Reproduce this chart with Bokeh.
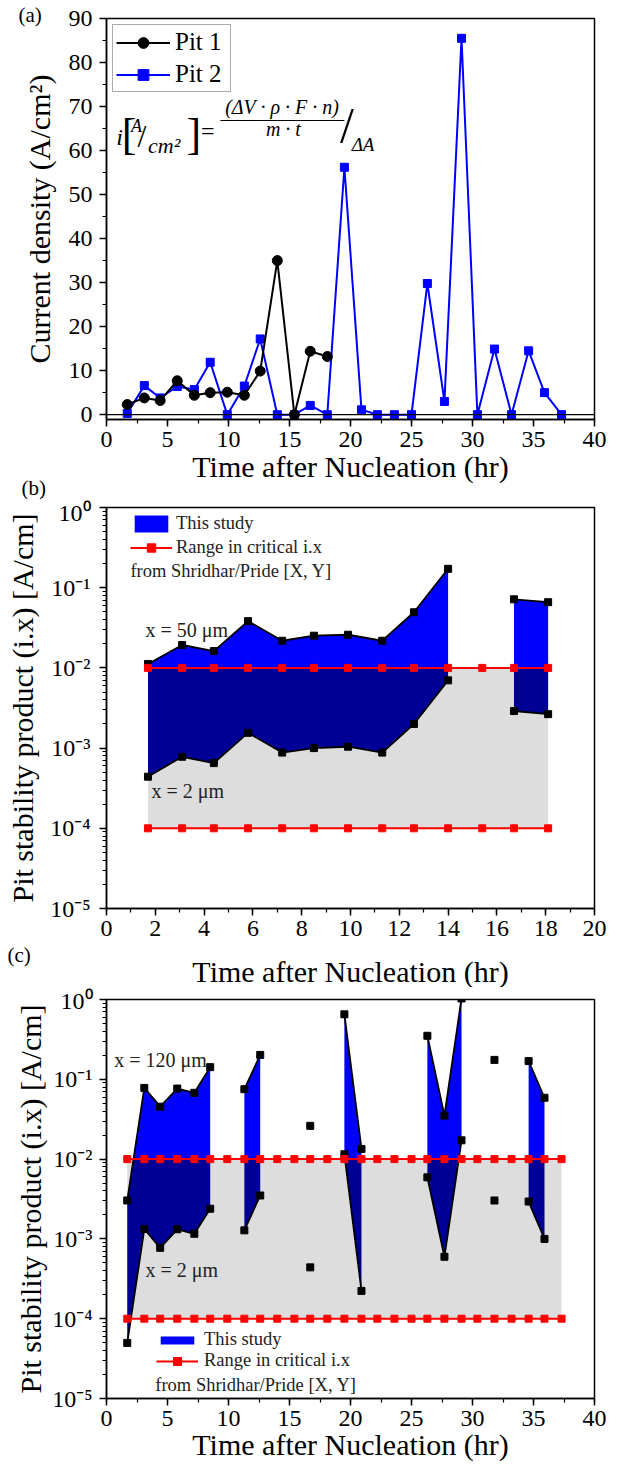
import numpy as np
from bokeh.plotting import figure
from bokeh.layouts import column
from bokeh.models import (SingleIntervalTicker, FixedTicker, CustomJSTickFormatter,
                          Legend, LegendItem, Label, Span, Title)
from bokeh.embed import file_html
from bokeh.resources import INLINE

nan = float("nan")

# ---------------- data ----------------
time_hr = [1.7, 3.1, 4.4, 5.8, 7.2, 8.5, 9.9, 11.3, 12.6, 14.0, 15.4, 16.7, 18.1,
           19.5, 20.9, 22.2, 23.6, 25.0, 26.3, 27.7, 29.1, 30.4, 31.8, 33.2, 34.6, 35.9, 37.3]

pit1_i = [2.3, 3.8, 3.2, 7.7, 4.4, 5.0, 5.1, 4.4, 9.9, 35.0, 0.0, 14.4, 13.2]
pit2_i = [0.25, 6.6, 3.8, 6.4, 5.7, 11.9, 0.0, 6.5, 17.2, 0.0, 0.0, 2.1, 0.0, 56.2, 1.1,
          0.0, 0.0, 0.0, 29.8, 3.0, 85.5, 0.0, 14.9, 0.0, 14.5, 5.0, 0.0]

# panel (b): pit 1 stability product
b_time = time_hr[:13]
b_ix_50um = [0.0112, 0.0193, 0.0162, 0.0383, 0.0218, 0.0252, 0.0259, 0.0218, 0.0494,
             0.172, nan, 0.0716, 0.066]
b_ix_2um = [4.4e-4, 7.8e-4, 6.5e-4, 1.55e-3, 8.8e-4, 1.0e-3, 1.04e-3, 8.8e-4, 2.0e-3,
            7.0e-3, nan, 2.9e-3, 2.65e-3]
b_crit_upper = [1e-2] * 13
b_crit_lower = [1e-4] * 13

# panel (c): pit 2 stability product
c_time = time_hr
c_ix_120um = [0.00303, 0.078, 0.0454, 0.0766, 0.0677, 0.142, nan, 0.0752, 0.202, nan, nan,
              0.0261, nan, 0.652, 0.0134, nan, nan, nan, 0.351, 0.0351, 1.03, nan, 0.175,
              nan, 0.169, 0.0587, nan]
c_ix_2um = [4.97e-5, 1.33e-3, 7.73e-4, 1.32e-3, 1.16e-3, 2.39e-3, nan, 1.28e-3, 3.5e-3, nan,
            nan, 4.4e-4, nan, 0.0115, 2.23e-4, nan, nan, nan, 5.91e-3, 5.97e-4, 0.0172, nan,
            3.03e-3, nan, 2.94e-3, 1.0e-3, nan]
c_crit_upper = [1e-2] * 27
c_crit_lower = [1e-4] * 27

log_ticks = [1e-5, 1e-4, 1e-3, 1e-2, 1e-1, 1.0]
panel_tags = ["(a)", "(b)", "(c)"]
x_title = "Time after Nucleation (hr)"

# ---------------- style ----------------
SERIF = "Liberation Serif"
BLUE = "#0000FF"
DARK = "#000096"
GRAY = "#DDDDDD"
RED = "#FF0000"
TXT = "#222222"


def style(p, tick_standoff_x=5, tick_standoff_y=7, lab_standoff_x=0, lab_standoff_y=10):
    for ax in (p.xaxis[0], p.yaxis[0]):
        ax.axis_line_color = "black"
        ax.axis_line_width = 1.5
        ax.major_tick_line_color = "black"
        ax.major_tick_line_width = 1.5
        ax.minor_tick_line_color = "black"
        ax.minor_tick_line_width = 1.2
        ax.major_tick_in = 0
        ax.major_tick_out = 7
        ax.minor_tick_in = 0
        ax.minor_tick_out = 4
        ax.major_label_text_font = SERIF
        ax.major_label_text_font_size = "24px"
        ax.major_label_text_font_style = "normal"
        ax.major_label_text_color = "black"
        ax.axis_label_text_font = SERIF
        ax.axis_label_text_font_size = "30px"
        ax.axis_label_text_font_style = "normal"
        ax.axis_label_text_color = "black"
    p.xaxis[0].major_label_standoff = tick_standoff_x
    p.yaxis[0].major_label_standoff = tick_standoff_y
    p.xaxis[0].axis_label_standoff = lab_standoff_x
    p.yaxis[0].axis_label_standoff = lab_standoff_y
    p.xgrid.visible = False
    p.ygrid.visible = False
    p.outline_line_color = "black"
    p.outline_line_width = 1.5
    p.outline_line_alpha = 1.0
    p.background_fill_color = "white"


log_fmt = CustomJSTickFormatter(code="""
const sup = {"-":"\u207b","0":"\u2070","1":"\u00b9","2":"\u00b2","3":"\u00b3","4":"\u2074",
             "5":"\u2075","6":"\u2076","7":"\u2077","8":"\u2078","9":"\u2079"};
const e = Math.round(Math.log10(tick));
return "10" + String(e).split("").map(c => sup[c]).join("");
""")
minor_log = [k * 10.0 ** e for e in range(-5, 0) for k in range(2, 10)]


def lab(p, x, y, text, size="20px", style_="normal", align="left", color=TXT, baseline="middle"):
    p.add_layout(Label(x=x, y=y, text=text, text_font=SERIF, text_font_size=size,
                       text_font_style=style_, text_align=align, text_baseline=baseline,
                       text_color=color))


def side_title(text, align, valign, offset, standoff, size="21px"):
    return Title(text=text, align=align, vertical_align=valign, offset=offset,
                 standoff=standoff, text_font=SERIF, text_font_size=size,
                 text_font_style="normal", text_color="black")


# ---------------- panel (a) ----------------
pa = figure(width=629, height=499, x_range=(0, 40), y_range=(-1.1, 90),
            output_backend="svg", toolbar_location=None,
            min_border_left=96, min_border_right=35, min_border_top=18, min_border_bottom=80)
style(pa, tick_standoff_x=5, tick_standoff_y=7, lab_standoff_x=0, lab_standoff_y=10)
pa.xaxis[0].ticker = SingleIntervalTicker(interval=5, num_minor_ticks=2)
pa.yaxis[0].ticker = SingleIntervalTicker(interval=10, num_minor_ticks=2)
pa.xaxis[0].axis_label = x_title
pa.yaxis[0].axis_label = "Current density (A/cm\u00b2)"

pa.add_layout(Span(location=0, dimension="width", line_color="black", line_width=1.3))
l2 = pa.line(time_hr, pit2_i, line_color=BLUE, line_width=2)
s2 = pa.scatter(time_hr, pit2_i, marker="square", size=8, color=BLUE)
l1 = pa.line(time_hr[:13], pit1_i, line_color="black", line_width=2)
s1 = pa.scatter(time_hr[:13], pit1_i, marker="circle", size=10, color="black")

leg_a = Legend(items=[LegendItem(label="Pit 1", renderers=[l1, s1]),
                      LegendItem(label="Pit 2", renderers=[l2, s2])],
               location="top_left", margin=6, padding=3, spacing=4,
               glyph_width=54, glyph_height=27, label_height=27, label_width=52,
               label_standoff=5, label_text_font=SERIF, label_text_font_size="25px",
               label_text_color="black", border_line_color="#555555", border_line_width=1,
               background_fill_color="white", background_fill_alpha=1)
pa.add_layout(leg_a)

# formula  i [A/cm2] = (dV.rho.F.n)/(m.t) / dA
lab(pa, 0.80, 63.0, "i", "24px", "italic", color="black")
lab(pa, 1.25, 63.7, "[", "44px", color="black")
lab(pa, 2.01, 65.5, "A", "18px", "italic", color="black")
lab(pa, 2.55, 63.2, "/", "32px", color="black")
lab(pa, 3.40, 61.2, "cm\u00b2", "22px", "italic", color="black")
lab(pa, 6.55, 63.7, "]", "44px", color="black")
lab(pa, 7.75, 64.4, "=", "24px", color="black")
lab(pa, 14.4, 70.0, "(\u0394V \u00b7 \u03c1 \u00b7 F \u00b7 n)", "20px", "italic", "center", color="black")
lab(pa, 14.4, 68.6, "_" * 13, "19px", "normal", "center", color="black", baseline="alphabetic")
lab(pa, 14.5, 65.0, "m \u00b7 t", "20px", "italic", "center", color="black")
lab(pa, 19.7, 65.8, "/", "50px", "normal", "center", color="black")
lab(pa, 20.1, 61.3, "\u0394A", "19px", "italic", color="black")

# panel tags (a) above, (b) below the x axis title
pa.add_layout(side_title(panel_tags[0], "left", "top", -88, -21), "above")
pa.add_layout(side_title(panel_tags[1], "left", "bottom", -85, -23), "below")


# ---------------- helpers for stability panels ----------------
def runs_of(top, bot):
    runs, cur = [], []
    for i in range(len(top)):
        if np.isfinite(top[i]) and np.isfinite(bot[i]):
            cur.append(i)
        else:
            if cur:
                runs.append(cur)
            cur = []
    if cur:
        runs.append(cur)
    return runs


def refine(x, top, bot, thr):
    lt, lb, lthr = np.log10(top), np.log10(bot), np.log10(thr)
    X, T, B = [x[0]], [lt[0]], [lb[0]]
    for i in range(1, len(x)):
        fs = []
        for arr in (lt, lb):
            a, b = arr[i - 1] - lthr, arr[i] - lthr
            if a * b < 0:
                fs.append(a / (a - b))
        for f in sorted(fs):
            X.append(x[i - 1] + f * (x[i] - x[i - 1]))
            T.append(lt[i - 1] + f * (lt[i] - lt[i - 1]))
            B.append(lb[i - 1] + f * (lb[i] - lb[i - 1]))
        X.append(x[i]); T.append(lt[i]); B.append(lb[i])
    return np.array(X), 10 ** np.array(T), 10 ** np.array(B)


def stability_panel(p, t, top, bot, upper, lower):
    t = np.array(t, float); top = np.array(top, float); bot = np.array(bot, float)
    p.varea(x=t, y1=lower, y2=upper, fill_color=GRAY)
    thr = upper[0]
    blue_r = None
    for r in runs_of(top, bot):
        if len(r) < 2:
            continue
        X, T, B = refine(t[r], top[r], bot[r], thr)
        dark_hi = np.minimum(T, thr)
        dark_lo = np.minimum(B, dark_hi)
        blue_lo = np.maximum(B, thr)
        blue_hi = np.maximum(T, blue_lo)
        p.varea(x=X, y1=dark_lo, y2=dark_hi, fill_color=DARK)
        br = p.varea(x=X, y1=blue_lo, y2=blue_hi, fill_color=BLUE)
        if blue_r is None:
            blue_r = br
    for arr in (top, bot):
        p.line(t, arr, line_color="black", line_width=1.8)
        p.scatter(t, arr, marker="square", size=7, color="black")
    for arr in (upper, lower):
        rl = p.line(t, arr, line_color=RED, line_width=2)
        rs = p.scatter(t, arr, marker="square", size=7, color=RED)
    return blue_r, rl, rs


# ---------------- panel (b) ----------------
pb = figure(width=629, height=488, x_range=(0, 20), y_range=(1e-5, 1), y_axis_type="log",
            output_backend="svg", toolbar_location=None,
            min_border_left=106, min_border_right=23, min_border_top=8, min_border_bottom=79)
style(pb, tick_standoff_x=5, tick_standoff_y=9, lab_standoff_x=0, lab_standoff_y=8)
pb.xaxis[0].ticker = SingleIntervalTicker(interval=2, num_minor_ticks=2)
pb.yaxis[0].ticker = FixedTicker(ticks=log_ticks, minor_ticks=minor_log)
pb.yaxis[0].formatter = log_fmt
pb.yaxis[0].axis_label = "Pit stability product (i.x) [A/cm]"

bb, brl, brs = stability_panel(pb, b_time, b_ix_50um, b_ix_2um, b_crit_upper, b_crit_lower)
leg_b = Legend(items=[LegendItem(label="This study", renderers=[bb]),
                      LegendItem(label="Range in critical i.x", renderers=[brl, brs])],
               location=(24, 350), margin=0, padding=0, spacing=3,
               glyph_width=42, glyph_height=21, label_height=21, label_standoff=4,
               label_text_font=SERIF, label_text_font_size="18.5px", label_text_color=TXT,
               border_line_alpha=0, background_fill_alpha=0)
pb.add_layout(leg_b)
lab(pb, 0.98, 0.1625, "from Shridhar/Pride [X, Y]", "18.5px")
lab(pb, 1.6, 0.0299, "x = 50 \u03bcm", "20px")
lab(pb, 1.84, 2.88e-4, "x = 2 \u03bcm", "20px")
# below the tick labels: tag (c) then the x-axis title
pb.add_layout(side_title(panel_tags[2], "left", "bottom", -99, 5), "below")
pb.add_layout(side_title(x_title, "center", "bottom", 0, -33, size="30px"), "below")

# ---------------- panel (c) ----------------
pc = figure(width=629, height=481, x_range=(0, 40), y_range=(1e-5, 1), y_axis_type="log",
            output_backend="svg", toolbar_location=None,
            min_border_left=97, min_border_right=33, min_border_top=12, min_border_bottom=70)
style(pc, tick_standoff_x=5, tick_standoff_y=7, lab_standoff_x=-1, lab_standoff_y=2)
pc.xaxis[0].ticker = SingleIntervalTicker(interval=5, num_minor_ticks=2)
pc.yaxis[0].ticker = FixedTicker(ticks=log_ticks, minor_ticks=minor_log)
pc.yaxis[0].formatter = log_fmt
pc.xaxis[0].axis_label = x_title
pc.yaxis[0].axis_label = "Pit stability product (i.x) [A/cm]"

cb, crl, crs = stability_panel(pc, c_time, c_ix_120um, c_ix_2um, c_crit_upper, c_crit_lower)
leg_c1 = Legend(items=[LegendItem(label="This study", renderers=[cb])],
                location=(50, 48), margin=0, padding=0,
                glyph_width=42, glyph_height=10, label_height=10, label_standoff=6,
                label_text_font=SERIF, label_text_font_size="18.5px", label_text_color=TXT,
                border_line_alpha=0, background_fill_alpha=0)
leg_c2 = Legend(items=[LegendItem(label="Range in critical i.x", renderers=[crl, crs])],
                location=(50, 27), margin=0, padding=0,
                glyph_width=42, glyph_height=20, label_height=20, label_standoff=6,
                label_text_font=SERIF, label_text_font_size="18.5px", label_text_color=TXT,
                border_line_alpha=0, background_fill_alpha=0)
pc.add_layout(leg_c1)
pc.add_layout(leg_c2)
lab(pc, 4.0, 1.48e-5, "from Shridhar/Pride [X, Y]", "18.5px")
lab(pc, 0.63, 0.1754, "x = 120 \u03bcm", "20px")
lab(pc, 3.2, 4.05e-4, "x = 2 \u03bcm", "20px")

layout = column(pa, pb, pc, spacing=0)
open("out.html", "w").write(file_html(layout, INLINE))
